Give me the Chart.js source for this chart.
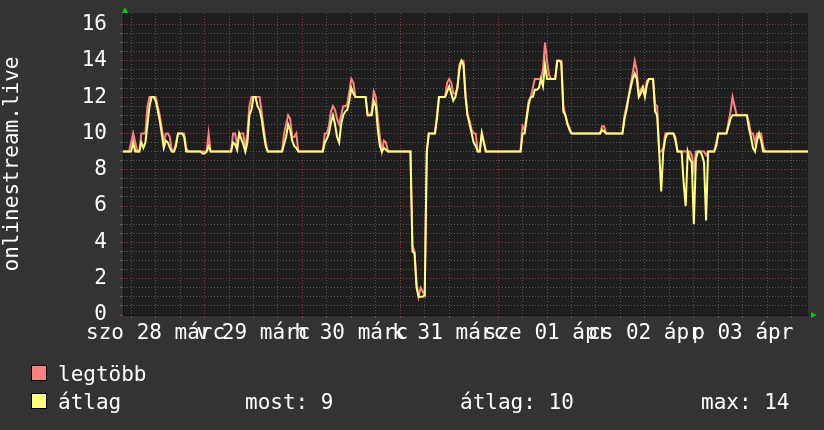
<!DOCTYPE html>
<html>
<head>
<meta charset="utf-8">
<script src="https://cdn.jsdelivr.net/npm/chart.js@4.4.1/dist/chart.umd.min.js"></script>
<style>
  html, body { margin: 0; padding: 0; background: #333; }
  #wrap { position: relative; width: 824px; height: 430px; background: #333;
          font-family: 'DejaVu Sans Mono', monospace; font-size: 21px; color: #fff; }
  #chart { position: absolute; left: 0; top: 0; }
  .lg { position: absolute; line-height: 24px; white-space: pre; }
  .sw { position: absolute; width: 14px; height: 14px; border: 1px solid #000; }
</style>
</head>
<body>
<div id="wrap">
  <canvas id="chart" width="824" height="430"></canvas>
  <div class="sw" style="left:31px;top:365px;background:#ff8080"></div>
  <div class="lg" style="left:58px;top:362px">legtöbb</div>
  <div class="sw" style="left:31px;top:393px;background:#ffff80"></div>
  <div class="lg" style="left:58px;top:390px">átlag</div>
  <div class="lg" id="stat-now" style="left:245px;top:390px"></div>
  <div class="lg" id="stat-avg" style="left:460px;top:390px"></div>
  <div class="lg" id="stat-max" style="left:701px;top:390px"></div>
</div>
<script>
// one sample every 30 minutes, starting szo 28 márc 04:00
const STEP_HOURS = 0.5;

const dayLabels = ['szo 28 márc', 'v 29 márc', 'h 30 márc', 'k 31 márc', 'sze 01 ápr', 'cs 02 ápr', 'p 03 ápr'];
const yTicks = [0, 2, 4, 6, 8, 10, 12, 14, 16];

// legtöbb
const maxValues = [
  9, 9, 9, 9, 9.5, 10, 9.5, 9, 9, 10,
  10, 10, 11.5, 12, 12, 12, 12, 11.5, 11, 10.3,
  9.5, 10, 10, 9.8, 9, 9, 9.5, 10, 10, 10,
  10, 9.2, 9, 9, 9, 9, 9, 9, 9, 9,
  9, 9, 10, 9, 9, 9, 9, 9, 9, 9,
  9, 9, 9, 9, 10, 10, 9.3, 10, 10, 10,
  9.2, 10, 11.5, 12, 12, 12, 12, 12, 11.2, 10.3,
  9.5, 9, 9, 9, 9, 9, 9, 9, 9, 10,
  10.5, 11, 10.8, 9.8, 9.8, 10, 9, 9, 9, 9,
  9, 9, 9, 9, 9, 9, 9, 9, 9, 10,
  10, 10.4, 11.2, 11.5, 11.3, 10.8, 10.5, 11, 11.5, 11.5,
  11.6, 12.3, 13, 12.8, 12, 12, 12, 12, 12, 12,
  11, 11, 11.2, 12.3, 12, 10.8, 9.8, 9, 9.6, 9.5,
  9, 9, 9, 9, 9, 9, 9, 9, 9, 9,
  9, 9, 3.8, 3.5, 1.7, 1, 1.5, 1.3, 1.1, 9,
  10, 10, 10, 10, 11, 12, 12, 12, 12, 12.8,
  13, 12.8, 12.2, 12.2, 12.5, 13.8, 14, 14, 12.2, 11,
  10.7, 10.2, 10, 10, 9, 9, 10, 9.5, 9, 9,
  9, 9, 9, 9, 9, 9, 9, 9, 9, 9,
  9, 9, 9, 9, 9, 9, 10.4, 10.2, 11, 11.8,
  12, 12.5, 13, 13, 13, 13, 13.5, 15, 14, 13.2,
  13, 13, 13, 14, 14, 14, 11.5, 11, 10.6, 10.3,
  10, 10, 10, 10, 10, 10, 10, 10, 10, 10,
  10, 10, 10, 10, 10, 10.4, 10.4, 10, 10, 10,
  10, 10, 10, 10, 10, 10, 11, 11.5, 12, 12.7,
  13.3, 14, 13.5, 12.2, 12.4, 12.6, 12.2, 12.9, 13, 13,
  13, 11.6, 11.5, 9, 9, 9.2, 10, 10, 10, 10,
  10, 9.8, 9, 9, 9, 9, 9, 9, 9, 8.8,
  8, 9, 9, 9, 9, 9, 8.8, 9, 9, 9,
  9, 9.5, 10, 10, 10, 10, 10, 10.6, 11.2, 12,
  11.5, 11, 11, 11, 11, 11, 11, 10.6, 10, 10,
  9.5, 10, 10, 10, 9.3, 9, 9, 9, 9, 9,
  9, 9, 9, 9, 9, 9, 9, 9, 9, 9,
  9, 9, 9, 9, 9, 9, 9
];

// átlag
const avgValues = [
  9, 9, 9, 9, 9, 9.5, 9, 9, 9, 9.5,
  9.2, 9.5, 10.5, 11.5, 12, 12, 11.8, 11.3, 10.7, 10,
  9.2, 9.6, 9.5, 9.2, 9, 9, 9.3, 10, 10, 10,
  9.8, 9, 9, 9, 9, 9, 9, 9, 9, 8.9,
  8.9, 9, 9.3, 9, 9, 9, 9, 9, 9, 9,
  9, 9, 9, 9, 9.5, 9.4, 9.1, 10, 9.7, 9.4,
  9, 9.5, 11, 11.3, 12, 12, 11.5, 11.3, 10.8, 10,
  9.3, 9, 9, 9, 9, 9, 9, 9, 9, 9.4,
  9.8, 10.5, 10.2, 9.6, 9.3, 9.2, 9, 9, 9, 9,
  9, 9, 9, 9, 9, 9, 9, 9, 9, 9.5,
  9.7, 10, 10.6, 11, 10.5, 9.8, 9.5, 10.5, 11, 11.2,
  11.3, 11.8, 12.5, 12.2, 12, 12, 12, 12, 12, 12,
  11, 11, 11, 11.8, 11.5, 10.2, 9.3, 9, 9.2, 9.1,
  9, 9, 9, 9, 9, 9, 9, 9, 9, 9,
  9, 9, 3.5, 3.4, 1.5, 1, 1, 1, 1.1, 9,
  10, 10, 10, 10, 10.8, 12, 12, 12, 12, 12.3,
  12.6, 12.2, 11.8, 12, 12.5, 13.5, 14, 13.8, 12, 11,
  10.5, 10, 9.5, 9.3, 9, 9, 10, 9.5, 9, 9,
  9, 9, 9, 9, 9, 9, 9, 9, 9, 9,
  9, 9, 9, 9, 9, 9, 10, 10, 10.8, 11.6,
  12, 12, 12.4, 12.4, 12.5, 13, 12.6, 13.8, 13, 13,
  13, 13, 13, 14, 14, 13.9, 11.2, 11, 10.5, 10.2,
  10, 10, 10, 10, 10, 10, 10, 10, 10, 10,
  10, 10, 10, 10, 10, 10.2, 10.1, 10, 10, 10,
  10, 10, 10, 10, 10, 10, 10.8, 11.3, 12, 12.5,
  13, 13.3, 13, 12, 12.2, 12.5, 12, 12.7, 13, 13,
  13, 11.2, 11, 9, 6.8, 9, 9.7, 10, 10, 10,
  10, 9.6, 9, 9, 9, 7.3, 6, 9, 8.6, 8.4,
  5, 8.6, 9, 9, 8.8, 8.4, 5.2, 9, 9, 9,
  9, 9.3, 10, 10, 10, 10, 10, 10.4, 10.8, 11,
  11, 11, 11, 11, 11, 11, 11, 10.3, 9.8, 9.2,
  9, 9.6, 10, 9.6, 9, 9, 9, 9, 9, 9,
  9, 9, 9, 9, 9, 9, 9, 9, 9, 9,
  9, 9, 9, 9, 9, 9, 9
];

const statLabels = ['most: 9', 'átlag: 10', 'max: 14'];
document.getElementById('stat-now').textContent = statLabels[0];
document.getElementById('stat-avg').textContent = statLabels[1];
document.getElementById('stat-max').textContent = statLabels[2];

const FONT = { family: "'DejaVu Sans Mono', monospace", size: 21 };
const gridMinor = 'rgba(125,125,125,0.6)';
const gridMajor = 'rgba(190,70,70,0.7)';
const isMidnight = h => (h - 20) % 24 === 0;
const isNoon = h => (h - 8) % 24 === 0;
const toPoints = arr => arr.map((v, i) => ({ x: i * STEP_HOURS, y: v }));

const plotBg = {
  id: 'plotBg',
  beforeDraw(chart) {
    const { ctx, chartArea: a } = chart;
    ctx.save();
    ctx.fillStyle = '#1e1e1e';
    ctx.fillRect(a.left, a.top, a.right - a.left, a.bottom - a.top);
    ctx.restore();
  }
};

// little green arrows at the axis ends
const arrows = {
  id: 'arrows',
  afterDraw(chart) {
    const { ctx, chartArea: a } = chart;
    ctx.save();
    ctx.fillStyle = '#00cc00';
    ctx.beginPath();
    ctx.moveTo(a.left - 1, a.top);
    ctx.lineTo(a.left + 5, a.top);
    ctx.lineTo(a.left + 2, a.top - 6);
    ctx.fill();
    ctx.beginPath();
    ctx.moveTo(a.right + 3, a.bottom - 3);
    ctx.lineTo(a.right + 3, a.bottom + 3);
    ctx.lineTo(a.right + 9, a.bottom);
    ctx.fill();
    ctx.restore();
  }
};

const ctx = document.getElementById('chart').getContext('2d');
const chart = new Chart(ctx, {
  type: 'line',
  data: {
    datasets: [
      { label: 'átlag', data: toPoints(avgValues), borderColor: '#ffff80', borderWidth: 2,
        pointRadius: 0, tension: 0, fill: false, order: 0 },
      { label: 'legtöbb', data: toPoints(maxValues), borderColor: '#ff8080', borderWidth: 2,
        pointRadius: 0, tension: 0, fill: false, order: 1 }
    ]
  },
  options: {
    responsive: false,
    animation: false,
    events: [],
    layout: { padding: { top: 13, right: 16, left: 0, bottom: 0 } },
    plugins: { legend: { display: false }, tooltip: { enabled: false } },
    scales: {
      x: {
        type: 'linear',
        min: 0,
        max: 168,
        afterBuildTicks: s => {
          s.ticks = [];
          for (let h = 2; h <= 168; h += 6) s.ticks.push({ value: h });
        },
        afterFit: s => { s.height = 115; s.paddingLeft = 0; s.paddingRight = 0; },
        ticks: {
          autoSkip: false, maxRotation: 0, minRotation: 0,
          color: '#fff', font: FONT, padding: 3,
          callback: v => isNoon(v) ? dayLabels[(v - 8) / 24] : ''
        },
        grid: {
          color: c => isMidnight(c.tick.value) ? gridMajor : gridMinor,
          tickColor: c => isMidnight(c.tick.value) ? gridMajor : gridMinor,
          tickLength: 3,
          lineWidth: 1
        },
        border: { display: true, color: '#111', dash: [1, 2] }
      },
      y: {
        min: 0,
        max: 16.63,
        afterBuildTicks: s => {
          s.ticks = [];
          for (let k = 0; k <= 32; k++) s.ticks.push({ value: k / 2 });
        },
        afterFit: s => { s.width = 123; s.paddingTop = 0; s.paddingBottom = 0; },
        ticks: {
          autoSkip: false, color: '#fff', font: FONT, padding: 13,
          callback: v => yTicks.includes(v) ? String(v) : ''
        },
        grid: {
          color: c => c.tick.value % 2 === 0 ? gridMajor : gridMinor,
          tickColor: c => c.tick.value % 2 === 0 ? gridMajor : gridMinor,
          tickLength: 3,
          lineWidth: 1
        },
        border: { display: true, color: '#111', dash: [1, 2] },
        title: { display: true, text: 'onlinestream.live', color: '#fff', font: FONT, padding: 0 }
      }
    }
  },
  plugins: [plotBg, arrows]
});
</script>
</body>
</html>
